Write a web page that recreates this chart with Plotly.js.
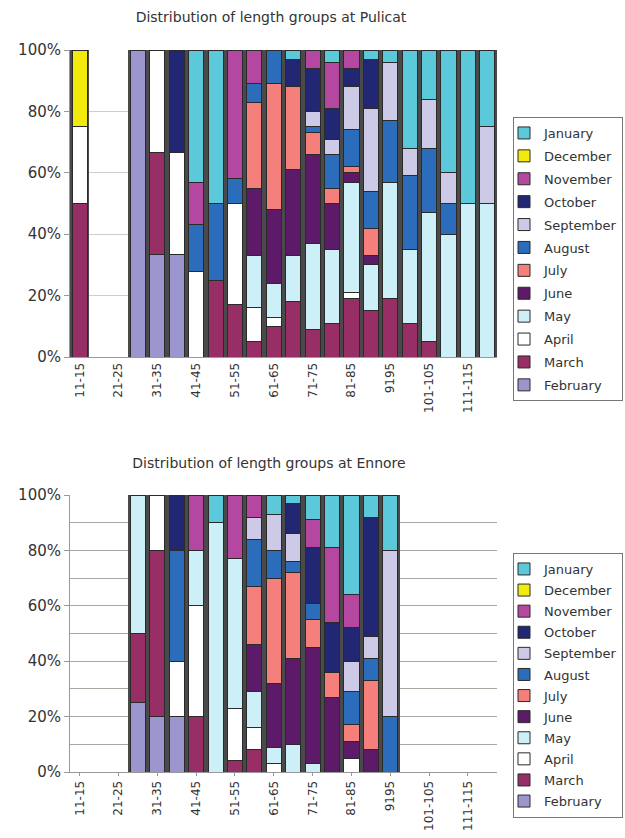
<!DOCTYPE html>
<html>
<head>
<meta charset="utf-8">
<script src="https://cdn.plot.ly/plotly-3.0.1.min.js"></script>
<style>
  html, body { margin: 0; padding: 0; background: #fff; }
  #top { width: 625px; height: 440px; }
  #bottom { width: 625px; height: 398px; }
</style>
</head>
<body>
<div id="top"></div>
<div id="bottom"></div>
<script>
// ---- categories & tick labels ----
const categories = ["11-15","16-20","21-25","26-30","31-35","36-40","41-45","46-50","51-55","56-60","61-65",
                    "66-70","71-75","76-80","81-85","86-90","91-95","96-100","101-105","106-110","111-115","116-120"];
const tickCategories = ["11-15","21-25","31-35","41-45","51-55","61-65","71-75","81-85","91-95","101-105","111-115"];
const tickLabels = ["11-15","21-25","31-35","41-45","51-55","61-65","71-75","81-85","9195","101-105","111-115"];

// stacking order (bottom -> top)
const months = ["February","March","April","May","June","July","August","September","October","November","December","January"];
const monthColors = ["#9B97CE","#972E66","#FFFFFF","#CDEFF7","#5D1A68","#F47F7B","#2B6DBA","#CCCAE6","#222774","#B4479F","#F2EA0C","#5CC9DB"];

// ---- Pulicat (% of each length group) ----
const pulicatFebruary  = [0,0,0,100,33.3,33.3,0,0,0,0,0,0,0,0,0,0,0,0,0,0,0,0];
const pulicatMarch     = [50,0,0,0,33.3,0,0,25,17,5,10,18,9,11,19,15,19,11,5,0,0,0];
const pulicatApril     = [25,0,0,0,33.4,33.3,28,0,33,11,3,0,0,0,2,0,0,0,0,0,0,0];
const pulicatMay       = [0,0,0,0,0,0,0,0,0,17,11,15,28,24,36,15,38,24,42,40,50,50];
const pulicatJune      = [0,0,0,0,0,0,0,0,0,22,24,28,29,15,3,3,0,0,0,0,0,0];
const pulicatJuly      = [0,0,0,0,0,0,0,0,0,28,41,27,7,5,2,9,0,0,0,0,0,0];
const pulicatAugust    = [0,0,0,0,0,0,15,25,8,6,11,0,2,11,12,12,20,24,21,10,0,0];
const pulicatSeptember = [0,0,0,0,0,0,0,0,0,0,0,0,5,5,14,27,19,9,16,10,0,25];
const pulicatOctober   = [0,0,0,0,0,33.4,0,0,0,0,0,9,14,10,6,16,0,0,0,0,0,0];
const pulicatNovember  = [0,0,0,0,0,0,14,0,42,11,0,0,6,15,6,0,0,0,0,0,0,0];
const pulicatDecember  = [25,0,0,0,0,0,0,0,0,0,0,0,0,0,0,0,0,0,0,0,0,0];
const pulicatJanuary   = [0,0,0,0,0,0,43,50,0,0,0,3,0,4,0,3,4,32,16,40,50,25];

// ---- Ennore (% of each length group) ----
const ennoreFebruary  = [0,0,0,25,20,20,0,0,0,0,0,0,0,0,0,0,0,0,0,0,0,0];
const ennoreMarch     = [0,0,0,25,60,0,20,0,4,8,0,0,0,0,0,0,0,0,0,0,0,0];
const ennoreApril     = [0,0,0,0,20,20,40,0,19,8,3,0,0,0,5,0,0,0,0,0,0,0];
const ennoreMay       = [0,0,0,50,0,0,20,90,54,13,6,10,3,0,0,0,0,0,0,0,0,0];
const ennoreJune      = [0,0,0,0,0,0,0,0,0,17,23,31,42,27,6,8,0,0,0,0,0,0];
const ennoreJuly      = [0,0,0,0,0,0,0,0,0,21,38,31,10,9,6,25,0,0,0,0,0,0];
const ennoreAugust    = [0,0,0,0,0,40,0,0,0,17,10,4,6,0,12,8,20,0,0,0,0,0];
const ennoreSeptember = [0,0,0,0,0,0,0,0,0,8,13,10,0,0,11,8,60,0,0,0,0,0];
const ennoreOctober   = [0,0,0,0,0,20,0,0,0,0,0,11,20,18,12,43,0,0,0,0,0,0];
const ennoreNovember  = [0,0,0,0,0,0,20,0,23,8,0,0,10,27,12,0,0,0,0,0,0,0];
const ennoreDecember  = [0,0,0,0,0,0,0,0,0,0,0,0,0,0,0,0,0,0,0,0,0,0];
const ennoreJanuary   = [0,0,0,0,0,0,0,10,0,0,7,3,9,19,36,8,20,0,0,0,0,0];

const pulicatSeries = [pulicatFebruary,pulicatMarch,pulicatApril,pulicatMay,pulicatJune,pulicatJuly,
                       pulicatAugust,pulicatSeptember,pulicatOctober,pulicatNovember,pulicatDecember,pulicatJanuary];
const ennoreSeries  = [ennoreFebruary,ennoreMarch,ennoreApril,ennoreMay,ennoreJune,ennoreJuly,
                       ennoreAugust,ennoreSeptember,ennoreOctober,ennoreNovember,ennoreDecember,ennoreJanuary];

const FONT = "DejaVu Sans, Arial, sans-serif";

function buildTraces(series) {
  // dark 3-D style backing behind each occupied column (total of the column)
  const totals = categories.map((c, i) => series.reduce((s, arr) => s + arr[i], 0));
  const traces = [{
    type: "bar", x: categories, y: totals, xaxis: "x", yaxis: "y",
    width: 1.0, marker: { color: "#4a4a4a", line: { width: 0 } },
    showlegend: false, hoverinfo: "skip"
  }];
  months.forEach((m, k) => {
    traces.push({
      type: "bar", name: m, x: categories, y: series[k], xaxis: "x2", yaxis: "y",
      width: 0.78, legendgroup: m, legendrank: 100 - k,
      marker: { color: monthColors[k], line: { color: "#2a2a2a", width: 1 } }
    });
  });
  return traces;
}

function buildLayout(opts) {
  const xCommon = {
    type: "category", categoryorder: "array", categoryarray: categories,
    range: [-0.5, categories.length - 0.5], fixedrange: true
  };
  return {
    width: 625, height: opts.height,
    margin: { l: 70, r: 128, t: opts.t, b: opts.b },
    paper_bgcolor: "#ffffff", plot_bgcolor: "#ffffff",
    font: { family: FONT, color: "#333", size: 13 },
    barmode: "stack",
    title: {
      text: opts.title, font: { family: FONT, size: 14, color: "#333" },
      xref: "container", yref: "container", x: opts.titleX, y: opts.titleY,
      xanchor: "center", yanchor: "middle"
    },
    xaxis: Object.assign({}, xCommon, {
      tickmode: "array", tickvals: tickCategories, ticktext: tickLabels,
      tickangle: -90, tickfont: { family: FONT, size: 12, color: "#333" },
      showline: true, linecolor: "#999", linewidth: 1, showgrid: false,
      ticks: opts.xticks ? "outside" : "", ticklen: 3, tickcolor: "#999"
    }),
    xaxis2: Object.assign({}, xCommon, { overlaying: "x", visible: false, matches: "x" }),
    yaxis: {
      range: [0, 100], dtick: 20, ticksuffix: "%", fixedrange: true,
      tickfont: { family: FONT, size: 15, color: "#333" },
      showline: true, linecolor: "#999", linewidth: 1,
      ticks: "outside", ticklen: 5, tickcolor: "#999",
      showgrid: true, gridcolor: opts.gridcolor, gridwidth: 1, zeroline: false,
      minor: opts.minor ? { dtick: 10, showgrid: true, gridcolor: opts.gridcolor, gridwidth: 1, ticks: "" } : undefined
    },
    legend: {
      xref: "container", yref: "container", x: opts.legX, y: opts.legY,
      xanchor: "left", yanchor: "top",
      traceorder: "grouped", tracegroupgap: opts.gap,
      indentation: -10, maxheight: 420,
      font: { family: FONT, size: 13, color: "#333" },
      bordercolor: "#777", borderwidth: 1, bgcolor: "#ffffff"
    },
    showlegend: true
  };
}

Plotly.newPlot("top", buildTraces(pulicatSeries), buildLayout({
  height: 440, t: 50, b: 83, title: "Distribution of length groups at Pulicat",
  titleX: 271 / 625, titleY: 1 - 17 / 440, gridcolor: "#cfcfc8", minor: false,
  legX: 513 / 625, legY: 1 - 117 / 440, gap: 3.0, xticks: false
}), { staticPlot: true });

Plotly.newPlot("bottom", buildTraces(ennoreSeries), buildLayout({
  height: 398, t: 55, b: 66, title: "Distribution of length groups at Ennore",
  titleX: 269 / 625, titleY: 1 - 23 / 398, gridcolor: "#a8a8a0", minor: true,
  legX: 513 / 625, legY: 1 - 113 / 398, gap: 1.2, xticks: true
}), { staticPlot: true });
</script>
</body>
</html>
